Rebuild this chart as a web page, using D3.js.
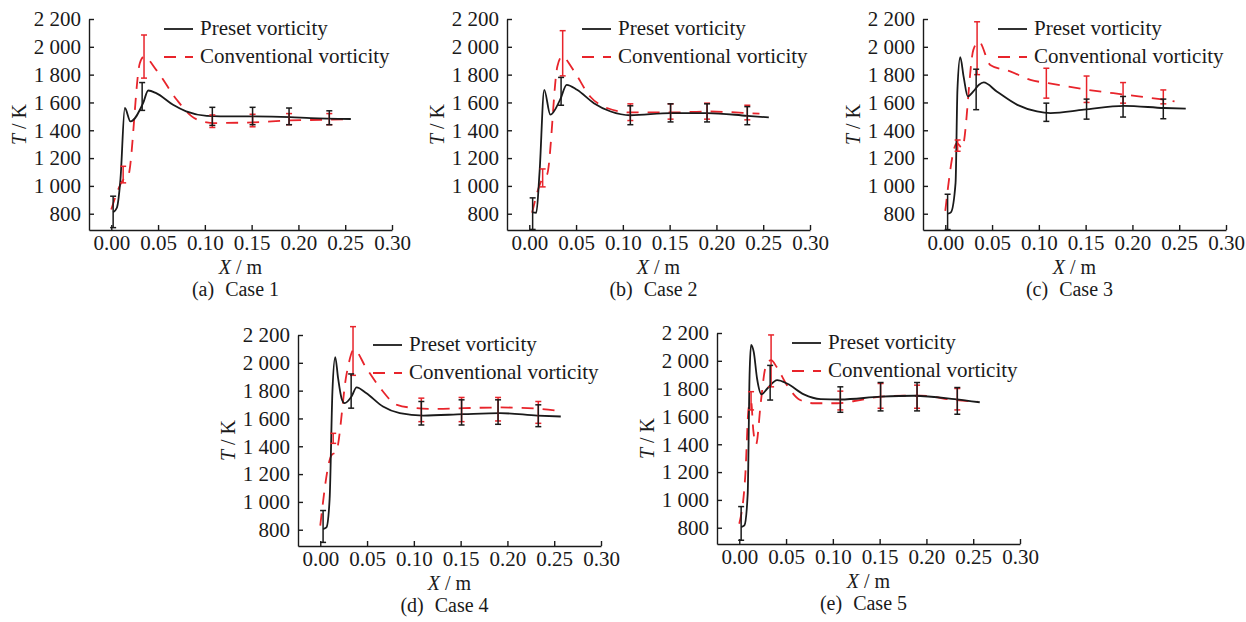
<!DOCTYPE html>
<html lang="en">
<head>
<meta charset="UTF-8">
<title>Temperature profiles: preset vs conventional vorticity</title>
<script src="https://d3js.org/d3.v7.min.js"></script>
<style>
  body { margin: 0; background: #fff; }
  svg text { font-family: "Liberation Serif", "Times New Roman", serif; fill: #1a1a1a; }
  .axis path, .axis line { stroke: #1a1a1a; stroke-width: 1.4; }
  .axis text { font-size: 21px; font-family: "Liberation Serif", "Times New Roman", serif; }
  .preset { fill: none; stroke: #1a1a1a; stroke-width: 1.8; }
  .conventional { fill: none; stroke: #e8242b; stroke-width: 1.8; stroke-dasharray: 12 9; }
  .bar-preset { stroke: #1a1a1a; stroke-width: 1.5; }
  .bar-conventional { stroke: #e8242b; stroke-width: 1.5; }
  .legend { font-size: 21px; }
  .title { font-size: 20px; }
  .caption { font-size: 20px; }
</style>
</head>
<body>
<div id="chart"></div>
<script>
// ---- data ----
const caseNames = ["(a)", "(b)", "(c)", "(d)", "(e)"];
const caseLabels = ["Case 1", "Case 2", "Case 3", "Case 4", "Case 5"];
const seriesNames = ["Preset vorticity", "Conventional vorticity"];
const xTicks = [0, 0.05, 0.10, 0.15, 0.20, 0.25, 0.30];
const yTicks = [800, 1000, 1200, 1400, 1600, 1800, 2000, 2200];

// [X (m), T (K)]
const preset1 = [[0.002, 810], [0.006, 843], [0.0098, 1046], [0.0145, 1560], [0.0205, 1464], [0.034, 1595],
  [0.0395, 1686], [0.048, 1667], [0.066, 1583], [0.080, 1536], [0.102, 1504], [0.131, 1500], [0.152, 1500],
  [0.191, 1495], [0.213, 1487], [0.256, 1481]];
const conventional1 = [[0.0, 830], [0.013, 1046], [0.018, 1070], [0.0305, 1882], [0.035, 1930], [0.048, 1834],
  [0.070, 1619], [0.086, 1500], [0.102, 1457], [0.109, 1452], [0.152, 1457], [0.191, 1471], [0.234, 1476], [0.255, 1481]];
// [X, low, high]
const presetBars1 = [[0.002, 700, 926], [0.033, 1543, 1743], [0.108, 1435, 1565], [0.151, 1440, 1565], [0.190, 1440, 1560], [0.233, 1440, 1540]];
const conventionalBars1 = [[0.0127, 1022, 1141], [0.035, 1775, 2085], [0.108, 1420, 1510], [0.151, 1425, 1515], [0.190, 1440, 1520], [0.233, 1440, 1520]];

const preset2 = [[0.0036, 810], [0.0075, 807], [0.011, 1100], [0.016, 1691], [0.0225, 1512], [0.033, 1620],
  [0.040, 1727], [0.051, 1691], [0.069, 1595], [0.087, 1535], [0.108, 1508], [0.151, 1524], [0.190, 1524],
  [0.233, 1504], [0.256, 1492]];
const conventional2 = [[0.003, 807], [0.0136, 1046], [0.019, 1081], [0.030, 1858], [0.035, 1930], [0.047, 1834],
  [0.065, 1643], [0.083, 1560], [0.108, 1528], [0.151, 1528], [0.190, 1535], [0.233, 1524], [0.246, 1519]];
const presetBars2 = [[0.0036, 687, 914], [0.034, 1580, 1780], [0.108, 1440, 1576], [0.151, 1460, 1590], [0.190, 1460, 1590], [0.233, 1440, 1570]];
const conventionalBars2 = [[0.0143, 993, 1122], [0.0357, 1791, 2116], [0.108, 1470, 1590], [0.151, 1480, 1590], [0.190, 1480, 1595], [0.233, 1475, 1580]];

const preset3 = [[0.0025, 800], [0.006, 810], [0.011, 1022], [0.013, 1691], [0.016, 1925], [0.0196, 1786],
  [0.024, 1643], [0.030, 1679], [0.036, 1727], [0.041, 1744], [0.055, 1679], [0.077, 1583], [0.098, 1536],
  [0.1125, 1524], [0.148, 1548], [0.191, 1576], [0.234, 1560], [0.257, 1555]];
const conventional3 = [[0.0, 820], [0.0125, 1308], [0.018, 1273], [0.030, 1978], [0.036, 2037], [0.048, 1870],
  [0.070, 1822], [0.091, 1762], [0.110, 1739], [0.152, 1691], [0.193, 1655], [0.234, 1619], [0.245, 1607]];
const presetBars3 = [[0.0025, 686, 940], [0.033, 1548, 1839], [0.108, 1464, 1595], [0.151, 1480, 1624], [0.190, 1495, 1643], [0.233, 1483, 1624]];
const conventionalBars3 = [[0.0132, 1249, 1330], [0.034, 1800, 2180], [0.108, 1631, 1846], [0.151, 1600, 1790], [0.190, 1595, 1743], [0.233, 1590, 1690]];

const preset4 = [[0.003, 805], [0.0066, 817], [0.010, 1022], [0.013, 1795], [0.016, 2041], [0.019, 1891],
  [0.0227, 1746], [0.026, 1710], [0.0334, 1758], [0.0388, 1824], [0.049, 1783], [0.067, 1686], [0.085, 1638],
  [0.110, 1621], [0.153, 1631], [0.192, 1638], [0.232, 1621], [0.257, 1614]];
const conventional4 = [[0.0, 830], [0.012, 1336], [0.017, 1360], [0.028, 1915], [0.036, 2096], [0.049, 1964],
  [0.064, 1819], [0.082, 1698], [0.103, 1674], [0.121, 1669], [0.153, 1674], [0.192, 1679], [0.233, 1670], [0.258, 1650]];
const presetBars4 = [[0.003, 709, 938], [0.033, 1674, 1920], [0.108, 1553, 1722], [0.151, 1553, 1734], [0.190, 1558, 1734], [0.233, 1541, 1698]];
const conventionalBars4 = [[0.0138, 1421, 1493], [0.035, 1910, 2260], [0.108, 1577, 1746], [0.151, 1577, 1751], [0.190, 1582, 1751], [0.233, 1565, 1722]];

const preset5 = [[0.002, 805], [0.0055, 817], [0.009, 1042], [0.011, 1896], [0.0126, 2115], [0.0155, 2062],
  [0.019, 1873], [0.0237, 1759], [0.030, 1801], [0.0405, 1861], [0.051, 1837], [0.069, 1759], [0.087, 1725],
  [0.108, 1722], [0.151, 1742], [0.187, 1749], [0.230, 1725], [0.257, 1702]];
const conventional5 = [[0.0, 829], [0.0065, 1184], [0.010, 1659], [0.0126, 1710], [0.015, 1500], [0.018, 1400],
  [0.023, 1700], [0.028, 1950], [0.034, 2005], [0.040, 1955], [0.051, 1825], [0.065, 1718], [0.080, 1695],
  [0.105, 1695], [0.123, 1711], [0.151, 1742], [0.176, 1749], [0.194, 1749], [0.230, 1718], [0.255, 1706]];
const presetBars5 = [[0.002, 710, 952], [0.033, 1718, 1967], [0.108, 1630, 1813], [0.151, 1640, 1844], [0.190, 1640, 1844], [0.233, 1616, 1808]];
const conventionalBars5 = [[0.0126, 1647, 1778], [0.034, 1813, 2186], [0.108, 1647, 1782], [0.151, 1659, 1837], [0.190, 1659, 1825], [0.233, 1647, 1801]];

const presetLines = [preset1, preset2, preset3, preset4, preset5];
const conventionalLines = [conventional1, conventional2, conventional3, conventional4, conventional5];
const presetBars = [presetBars1, presetBars2, presetBars3, presetBars4, presetBars5];
const conventionalBars = [conventionalBars1, conventionalBars2, conventionalBars3, conventionalBars4, conventionalBars5];

// ---- layout ----
const W = 1246, H = 622;
const panelW = 303, panelH = 211;
const panelPos = [[89, 19], [507, 19], [923, 19], [298, 335], [717, 333]];

const svg = d3.select("#chart").append("svg")
  .attr("width", W).attr("height", H);

const fmtY = d3.formatLocale({ decimal: ".", thousands: " ", grouping: [3], currency: ["", ""] }).format(",d");
const fmtX = d3.format(".2f");

panelPos.forEach(([left, top], i) => {
  const x = d3.scaleLinear().domain([-0.0238, 0.30]).range([0, panelW]);
  const y = d3.scaleLinear().domain([683, 2200]).range([panelH, 0]);

  const g = svg.append("g").attr("transform", `translate(${left},${top})`);

  // axes, ticks pointing inward
  g.append("g").attr("class", "axis")
    .attr("transform", `translate(0,${panelH})`)
    .call(d3.axisBottom(x).tickValues(xTicks).tickFormat(fmtX)
      .tickSizeInner(-5).tickSizeOuter(0).tickPadding(5));
  g.append("g").attr("class", "axis")
    .call(d3.axisLeft(y).tickValues(yTicks).tickFormat(fmtY)
      .tickSizeInner(-5).tickSizeOuter(0).tickPadding(8));

  const line = d3.line().x(d => x(d[0])).y(d => y(d[1])).curve(d3.curveMonotoneX);

  g.append("path").datum(conventionalLines[i]).attr("class", "conventional").attr("d", line);
  g.append("path").datum(presetLines[i]).attr("class", "preset").attr("d", line);

  // error bars
  [[conventionalBars[i], "bar-conventional"], [presetBars[i], "bar-preset"]].forEach(([bars, cls]) => {
    const eb = g.selectAll(null).data(bars).enter().append("g").attr("class", cls);
    eb.append("line")
      .attr("x1", d => x(d[0])).attr("x2", d => x(d[0]))
      .attr("y1", d => y(d[1])).attr("y2", d => y(d[2]));
    eb.append("line")
      .attr("x1", d => x(d[0]) - 3).attr("x2", d => x(d[0]) + 3)
      .attr("y1", d => y(d[1])).attr("y2", d => y(d[1]));
    eb.append("line")
      .attr("x1", d => x(d[0]) - 3).attr("x2", d => x(d[0]) + 3)
      .attr("y1", d => y(d[2])).attr("y2", d => y(d[2]));
  });

  // legend
  const lg = g.append("g").attr("class", "legend");
  lg.append("line").attr("class", "preset").attr("x1", 75).attr("x2", 104).attr("y1", 10).attr("y2", 10);
  lg.append("line").attr("class", "conventional").attr("x1", 75).attr("x2", 104).attr("y1", 38).attr("y2", 38);
  lg.append("text").attr("x", 111).attr("y", 16).text(seriesNames[0]);
  lg.append("text").attr("x", 111).attr("y", 44).text(seriesNames[1]);

  // axis titles
  const yt = g.append("text").attr("class", "title")
    .attr("transform", `translate(-63,${panelH / 2}) rotate(-90)`)
    .attr("text-anchor", "middle");
  yt.append("tspan").attr("font-style", "italic").text("T");
  yt.append("tspan").text(" / K");

  const xt = g.append("text").attr("class", "title")
    .attr("x", panelW / 2).attr("y", panelH + 44)
    .attr("text-anchor", "middle");
  xt.append("tspan").attr("font-style", "italic").text("X");
  xt.append("tspan").text(" / m");

  const cap = g.append("text").attr("class", "caption")
    .attr("x", panelW / 2 - 5).attr("y", panelH + 66)
    .attr("text-anchor", "middle");
  cap.append("tspan").text(caseNames[i]);
  cap.append("tspan").attr("dx", 11).text(caseLabels[i]);
});
</script>
</body>
</html>
